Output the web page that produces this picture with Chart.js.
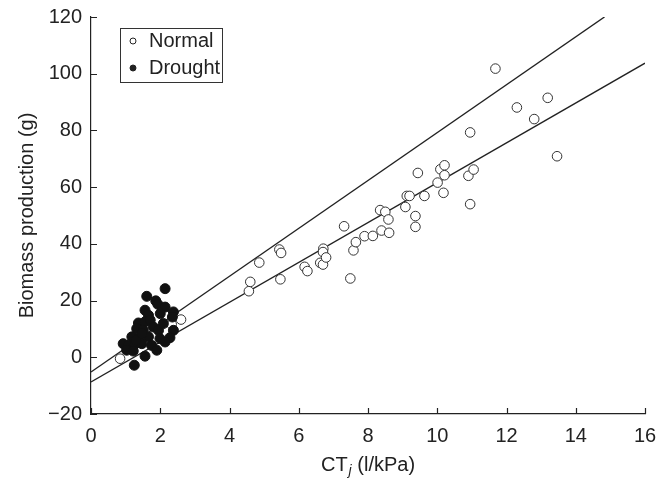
<!DOCTYPE html>
<html>
<head>
<meta charset="utf-8">
<script src="https://cdn.jsdelivr.net/npm/chart.js@4.4.1/dist/chart.umd.min.js"></script>
<style>
body { margin: 0; background: #fff; }
#wrap { width: 669px; height: 478px; }
</style>
</head>
<body>
<div id="wrap"><canvas id="biomassChart"></canvas></div>
<script>
// Normal plants (open circles)
const normalX = [0.84, 2.33, 2.6, 4.56, 4.6, 4.86, 5.44, 5.49, 5.47, 6.17, 6.25, 6.62, 6.7, 6.71, 6.7, 6.79,
    7.31, 7.49, 7.58, 7.65, 7.9, 8.14, 8.39, 8.61, 8.35, 8.5, 8.59, 9.08, 9.12, 9.2, 9.37, 9.37, 9.44, 9.63,
    10.01, 10.09, 10.21, 10.21, 10.18, 10.9, 10.95, 10.95, 11.05, 11.68, 12.3, 12.8, 13.19, 13.46];
const normalY = [-0.5, 11.6, 13.3, 23.3, 26.6, 33.4, 38, 36.8, 27.5, 31.9, 30.4, 33.3, 32.7, 38.3, 37.1, 35.2,
    46.2, 27.8, 37.7, 40.6, 42.7, 42.8, 44.7, 43.9, 51.9, 51.3, 48.6, 53, 56.9, 56.9, 49.8, 46, 65, 56.9,
    61.6, 66.3, 67.7, 64.2, 58, 64, 54, 79.3, 66.2, 101.8, 88.1, 84, 91.5, 70.9];

// Drought plants (filled circles)
const droughtX = [2.14, 1.61, 1.87, 1.93, 2.14, 1.56, 2.38, 2.35, 1.66, 1.37, 1.56, 1.71, 1.32, 1.51, 1.8, 1.95,
    2.38, 1.18, 1.37, 1.66, 1.99, 2.28, 0.93, 1.08, 1.27, 1.47, 1.75, 2.14, 1.03, 1.22, 1.56, 1.9, 1.25, 1.3,
    1.47, 2.0, 2.09];
const droughtY = [24.2, 21.5, 19.9, 18.7, 17.7, 16.6, 16, 14.2, 14.8, 12.1, 12.5, 13.1, 10.1, 9.5, 10.7, 9.5,
    9.5, 7.2, 6.6, 7.2, 6.6, 6.9, 4.8, 4.2, 4.6, 4.8, 4.2, 5.4, 2.5, 2.2, 0.4, 2.5, -2.8, 6,
    8.4, 15.4, 11.9];

// Regression lines (end points)
const upperLineX = [0, 14.83];
const upperLineY = [-5.2, 120];
const lowerLineX = [0, 16];
const lowerLineY = [-8.7, 103.7];

// Tick values
const xTicks = [0, 2, 4, 6, 8, 10, 12, 14, 16];
const yTicks = [-20, 0, 20, 40, 60, 80, 100, 120];

const FONT = '"Liberation Sans", Arial, Helvetica, sans-serif';
const INK = '#222';

function toPoints(xs, ys) {
    return xs.map((x, i) => ({ x: x, y: ys[i] }));
}

// Ticks pointing into the plot area
const innerTicks = {
    id: 'innerTicks',
    afterDraw(chart) {
        const ctx = chart.ctx;
        const a = chart.chartArea;
        ctx.save();
        ctx.strokeStyle = INK;
        ctx.lineWidth = 1.2;
        ctx.beginPath();
        xTicks.forEach(v => {
            const px = Math.round(chart.scales.x.getPixelForValue(v)) + 0.5;
            ctx.moveTo(px, a.bottom);
            ctx.lineTo(px, a.bottom - 6);
        });
        yTicks.forEach(v => {
            const py = Math.round(chart.scales.y.getPixelForValue(v)) + 0.5;
            ctx.moveTo(a.left, py);
            ctx.lineTo(a.left + 6, py);
        });
        ctx.stroke();
        ctx.restore();
    }
};

// Axis titles (x title has an italic subscript)
const axisTitles = {
    id: 'axisTitles',
    afterDraw(chart) {
        const ctx = chart.ctx;
        const a = chart.chartArea;
        ctx.save();
        ctx.fillStyle = INK;
        ctx.textBaseline = 'middle';

        const big = '20px ' + FONT;
        const sub = 'italic 14px ' + FONT;
        ctx.font = big;
        const w1 = ctx.measureText('CT').width;
        const w3 = ctx.measureText(' (l/kPa)').width;
        ctx.font = sub;
        const w2 = ctx.measureText('j').width + 1;
        let x = (a.left + a.right) / 2 - (w1 + w2 + w3) / 2;
        const y = 465;
        ctx.textAlign = 'left';
        ctx.font = big;
        ctx.fillText('CT', x, y);
        ctx.font = sub;
        ctx.fillText('j', x + w1 + 1, y + 6);
        ctx.font = big;
        ctx.fillText(' (l/kPa)', x + w1 + w2, y);

        ctx.translate(27, (a.top + a.bottom) / 2);
        ctx.rotate(-Math.PI / 2);
        ctx.textAlign = 'center';
        ctx.fillText('Biomass production (g)', 0, 0);
        ctx.restore();
    }
};

// Boxed legend in the upper left corner
const boxLegend = {
    id: 'boxLegend',
    afterDraw(chart) {
        const ctx = chart.ctx;
        ctx.save();
        ctx.strokeStyle = '#333';
        ctx.lineWidth = 1;
        ctx.strokeRect(120.5, 28.5, 102, 54);
        ctx.font = '20px ' + FONT;
        ctx.textBaseline = 'middle';
        ctx.fillStyle = INK;
        const rows = [
            { label: chart.data.datasets[0].label, y: 41, filled: false },
            { label: chart.data.datasets[1].label, y: 68, filled: true }
        ];
        rows.forEach(r => {
            ctx.beginPath();
            ctx.arc(133, r.y, 3, 0, Math.PI * 2);
            ctx.fillStyle = r.filled ? INK : '#fff';
            ctx.fill();
            ctx.strokeStyle = INK;
            ctx.stroke();
            ctx.fillStyle = INK;
            ctx.fillText(r.label, 149, r.y);
        });
        ctx.restore();
    }
};

const ctx = document.getElementById('biomassChart').getContext('2d');
const biomassChart = new Chart(ctx, {
    type: 'scatter',
    data: {
        datasets: [
            {
                label: 'Normal',
                data: toPoints(normalX, normalY),
                pointRadius: 4.8,
                pointBorderWidth: 1,
                borderColor: '#333',
                backgroundColor: '#fff',
                order: 1
            },
            {
                label: 'Drought',
                data: toPoints(droughtX, droughtY),
                pointRadius: 5,
                pointBorderWidth: 1,
                borderColor: '#111',
                backgroundColor: '#111',
                order: 0
            },
            {
                label: 'fit1',
                type: 'line',
                data: toPoints(upperLineX, upperLineY),
                borderColor: INK,
                borderWidth: 1.4,
                pointRadius: 0,
                fill: false,
                order: 2
            },
            {
                label: 'fit2',
                type: 'line',
                data: toPoints(lowerLineX, lowerLineY),
                borderColor: INK,
                borderWidth: 1.4,
                pointRadius: 0,
                fill: false,
                order: 2
            }
        ]
    },
    options: {
        responsive: true,
        maintainAspectRatio: false,
        animation: false,
        layout: { autoPadding: false, padding: { left: 0, right: 24, top: 17, bottom: 0 } },
        plugins: {
            legend: { display: false },
            tooltip: { enabled: false }
        },
        scales: {
            x: {
                type: 'linear',
                min: 0,
                max: 16,
                afterBuildTicks: s => { s.ticks = xTicks.map(v => ({ value: v })); },
                afterFit: s => { s.height = 64; s.paddingLeft = 0; s.paddingRight = 0; },
                grid: { display: false, drawTicks: false },
                border: { display: true, color: INK, width: 1.2 },
                ticks: { color: INK, font: { family: FONT, size: 20 }, padding: 10, maxRotation: 0 }
            },
            y: {
                type: 'linear',
                min: -20,
                max: 120,
                afterBuildTicks: s => { s.ticks = yTicks.map(v => ({ value: v })); },
                afterFit: s => { s.width = 91; s.paddingTop = 0; s.paddingBottom = 0; },
                grid: { display: false, drawTicks: false },
                border: { display: true, color: INK, width: 1.2 },
                ticks: {
                    color: INK,
                    font: { family: FONT, size: 20 },
                    padding: 9,
                    callback: v => (v < 0 ? '\u2212' + Math.abs(v) : v)
                }
            }
        }
    },
    plugins: [innerTicks, axisTitles, boxLegend]
});
</script>
</body>
</html>
